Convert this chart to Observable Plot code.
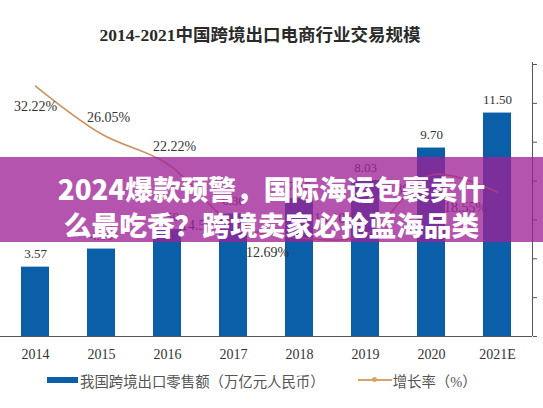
<!DOCTYPE html>
<html>
<head>
<meta charset="utf-8">
<script src="https://cdn.jsdelivr.net/npm/d3@7"></script>
<script src="https://cdn.jsdelivr.net/npm/@observablehq/plot@0.6"></script>
<style>
  html, body { margin: 0; padding: 0; background: #fff; }
  #wrap { position: relative; width: 543px; height: 408px; overflow: hidden; background: #fff; }
  #title { position: absolute; top: 21px; left: 0; width: 520px; text-align: center;
    font-family: "Liberation Serif", "Noto Sans CJK SC", serif; font-weight: bold; font-size: 17.5px; color: #2a2a2a; }
  #chart { position: absolute; top: 0; left: 0; }
  #legend { position: absolute; top: 370px; left: 47px; height: 20px; display: flex; align-items: center;
    font-family: "Liberation Serif", "Noto Sans CJK SC", serif; font-size: 14.4px; color: #555; white-space: nowrap; }
  .sw-bar { width: 31px; height: 6px; background: #0B5EA8; margin-right: 2px; }
  .sw-line { position: relative; width: 34px; height: 2px; background: #D9A46A; margin-left: 33px; margin-right: 1px; }
  .sw-line::after { content: ""; position: absolute; left: 14px; top: -2px; width: 5px; height: 5px; border-radius: 50%; background: #D9A46A; }
  #banner { position: absolute; left: 0; top: 157px; width: 543px; height: 85px; background: rgba(157, 32, 150, 0.77); }
  #banner div { position: absolute; left: 0; width: 543px; text-align: center; color: #fff;
    font-family: "Noto Sans CJK SC", sans-serif; font-weight: 900; font-size: 27.7px; line-height: 36px; white-space: nowrap; }
</style>
</head>
<body>
<div id="wrap">
  <div id="title"></div>
  <div id="chart"></div>
  <div id="legend"></div>
  <div id="banner"><div id="b1" style="top:13px"></div><div id="b2" style="top:49px"></div></div>
</div>
<script>
const title = "2014-2021中国跨境出口电商行业交易规模";
const years = ["2014", "2015", "2016", "2017", "2018", "2019", "2020", "2021E"];
const sales = [3.57, 4.50, 5.50, 6.30, 7.10, 8.03, 9.70, 11.50];
const growth = [32.22, 26.05, 22.22, 14.55, 12.69, 13.10, 20.80, 18.55];
const growthTicks = [0, 5, 10, 15, 20, 25, 30, 35];
const legendLabels = ["我国跨境出口零售额（万亿元人民币）", "增长率（%）"];
const bannerLines = ["2024爆款预警，国际海运包裹卖什", "么最吃香？跨境卖家必抢蓝海品类"];

const yMax = 14, gMax = 35;
const toY = g => g * yMax / gMax;

const data = years.map((year, i) => ({year, sales: sales[i], growth: growth[i], i}));

// label placement groups (layout, not data)
const below = [0];
const above = [1, 2];
const leftSide = [3];
const aboveLeft = [5];
const belowLeft = [4, 6, 7];
const pick = idx => data.filter(d => idx.includes(d.i));
const numFont = "Liberation Serif";
const pct = d => d.growth.toFixed(2) + "%";
const gy = d => toY(d.growth);

const plot = Plot.plot({
  width: 543,
  height: 370,
  marginLeft: 0,
  marginRight: 11,
  marginTop: 64,
  marginBottom: 34,
  style: {background: "transparent", fontFamily: numFont},
  x: {domain: years, paddingInner: 0.58, paddingOuter: 0.265, label: null},
  y: {domain: [0, yMax], axis: null},
  marks: [
    Plot.barY(data, {x: "year", y: "sales", fill: "#0B5EA8"}),
    Plot.ruleY([0], {stroke: "#555", strokeWidth: 1}),
    Plot.axisX({tickSize: 0, tickPadding: 13, fontSize: 14, fill: "#333", label: null}),
    Plot.axisY(growthTicks.map(toY), {anchor: "right", tickSize: 4, tickFormat: () => "", stroke: "#555", label: null}),
    Plot.text(data, {x: "year", y: "sales", text: d => d.sales.toFixed(2), dy: -13, fontSize: 13, fill: "#333"}),
    Plot.line(data, {x: "year", y: gy, curve: "catmull-rom", stroke: "#C9935A", strokeWidth: 1.6}),
    Plot.text(pick(below), {x: "year", y: gy, text: pct, dy: 20, fontSize: 14, fill: "#333"}),
    Plot.text(pick(above), {x: "year", y: gy, text: pct, dx: 7, dy: -17, fontSize: 14, fill: "#333"}),
    Plot.text(pick(leftSide), {x: "year", y: gy, text: pct, dx: -31, dy: 2, fontSize: 14, fill: "#333"}),
    Plot.text(pick(aboveLeft), {x: "year", y: gy, text: pct, dx: -30, dy: -16, fontSize: 14, fill: "#333"}),
    Plot.text(pick(belowLeft), {x: "year", y: gy, text: pct, dx: -32, dy: 15, fontSize: 14, fill: "#333"})
  ]
});

// right axis line
const xr = plot.scale("x").range;
const yr = plot.scale("y").range;
d3.select(plot).append("line")
  .attr("x1", xr[1] + 0.5).attr("x2", xr[1] + 0.5)
  .attr("y1", yr[0]).attr("y2", yr[1] - 2)
  .attr("stroke", "#555").attr("stroke-width", 1);

document.getElementById("chart").appendChild(plot);
document.getElementById("title").textContent = title;
document.getElementById("b1").textContent = bannerLines[0];
document.getElementById("b2").textContent = bannerLines[1];
const lg = document.getElementById("legend");
lg.innerHTML = `<span class="sw-bar"></span><span>${legendLabels[0]}</span><span class="sw-line"></span><span>${legendLabels[1]}</span>`;
</script>
</body>
</html>
